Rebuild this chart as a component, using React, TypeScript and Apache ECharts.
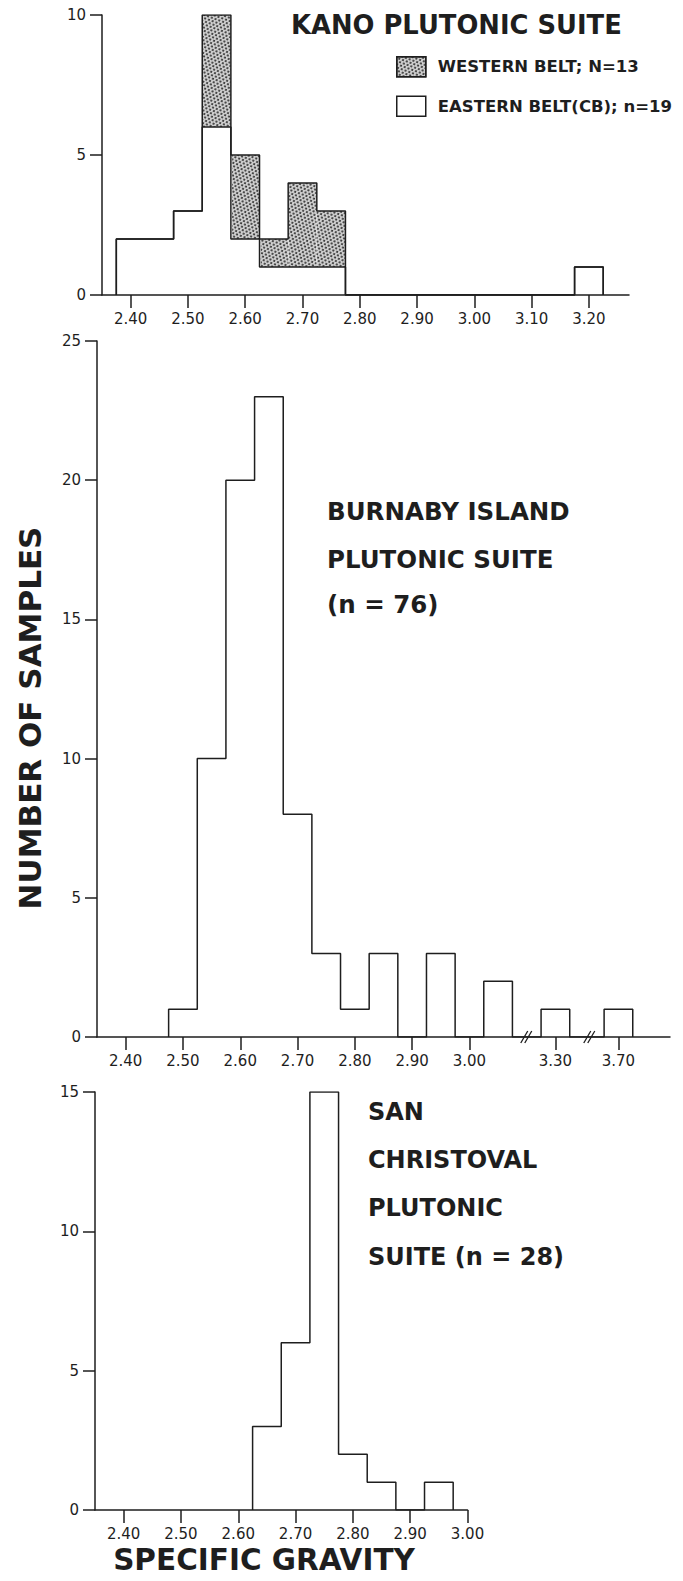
import React, { useEffect, useRef } from "react";
import * as echarts from "echarts";

const BIN = 0.05;

// ---- Kano Plutonic Suite ----
const kanoCenters = [2.4, 2.45, 2.5, 2.55, 2.6, 2.65, 2.7, 2.75, 3.2];
const kanoEastern = [2, 2, 3, 6, 2, 1, 1, 1, 1];
const kanoWestern = [0, 0, 0, 4, 3, 1, 3, 2, 0];
const kanoTicks = [2.4, 2.5, 2.6, 2.7, 2.8, 2.9, 3.0, 3.1, 3.2];

// ---- Burnaby Island Plutonic Suite ----
const burnabyCenters = [2.5, 2.55, 2.6, 2.65, 2.7, 2.75, 2.8, 2.85, 2.9, 2.95, 3.0, 3.05];
const burnabyCounts = [1, 10, 20, 23, 8, 3, 1, 3, 0, 3, 0, 2];
// values beyond the axis breaks, drawn at compressed axis positions
const burnabyBrokenPos = [3.15, 3.26];
const burnabyBrokenCounts = [1, 1];
const burnabyBreaks = [3.1, 3.21];
const burnabyTickPos = [2.4, 2.5, 2.6, 2.7, 2.8, 2.9, 3.0, 3.15, 3.26];
const burnabyTickLabels = ["2.40", "2.50", "2.60", "2.70", "2.80", "2.90", "3.00", "3.30", "3.70"];

// ---- San Christoval Plutonic Suite ----
const sanCenters = [2.65, 2.7, 2.75, 2.8, 2.85, 2.9, 2.95];
const sanCounts = [3, 6, 15, 2, 1, 0, 1];
const sanTicks = [2.4, 2.5, 2.6, 2.7, 2.8, 2.9, 3.0];

const INK = "#1e1e1e";
const FONT = "DejaVu Sans";

function stepOutline(centers: number[], counts: number[]): number[][] {
  const pts: number[][] = [];
  let prevHi: number | null = null;
  centers.forEach((c, i) => {
    const lo = +(c - BIN / 2).toFixed(4);
    const hi = +(c + BIN / 2).toFixed(4);
    if (prevHi === null) pts.push([lo, 0]);
    else if (lo - prevHi > 1e-6) {
      pts.push([prevHi, 0]);
      pts.push([lo, 0]);
    }
    pts.push([lo, counts[i]]);
    pts.push([hi, counts[i]]);
    prevHi = hi;
  });
  if (prevHi !== null) pts.push([prevHi, 0]);
  return pts;
}

function xAxisCfg(gridIndex: number, min: number, max: number, ticks: number[], fmt?: (v: number) => string) {
  return {
    type: "value",
    gridIndex,
    min,
    max,
    z: 10,
    axisLine: { show: true, onZero: false, lineStyle: { color: INK, width: 1.5 } },
    axisTick: { show: true, length: 13, customValues: ticks, lineStyle: { color: INK, width: 1.5 } },
    axisLabel: {
      show: true,
      customValues: ticks,
      margin: 16,
      color: INK,
      fontFamily: FONT,
      fontSize: 15,
      formatter: fmt || ((v: number) => v.toFixed(2)),
    },
    splitLine: { show: false },
  };
}

function yAxisCfg(gridIndex: number, max: number) {
  return {
    type: "value",
    gridIndex,
    min: 0,
    max,
    interval: 5,
    z: 10,
    axisLine: { show: true, lineStyle: { color: INK, width: 1.5 } },
    axisTick: { show: true, length: 12, lineStyle: { color: INK, width: 1.5 } },
    axisLabel: { show: true, margin: 16, color: INK, fontFamily: FONT, fontSize: 15 },
    splitLine: { show: false },
  };
}

const outlineLine = (name: string, data: number[][], xi: number, z = 5) => ({
  type: "line",
  name,
  xAxisIndex: xi,
  yAxisIndex: xi,
  data,
  symbol: "none",
  z,
  lineStyle: { color: INK, width: 1.5 },
  silent: true,
});

export default function App() {
  const ref = useRef<HTMLDivElement>(null);
  useEffect(() => {
    document.body.style.margin = "0";
    if (!ref.current) return;
    const chart = echarts.init(ref.current, null, { renderer: "svg" });

    const kanoTotal = kanoEastern.map((e, i) => e + kanoWestern[i]);
    const westernBars = kanoCenters
      .map((c, i) => [c, kanoTotal[i], kanoWestern[i]])
      .filter((d) => d[2] > 0)
      .map((d) => [d[0], d[1]]);
    const coverBars = kanoCenters
      .map((c, i) => [c, kanoEastern[i], kanoWestern[i]])
      .filter((d) => d[2] > 0)
      .map((d) => [d[0], d[1]]);

    const burnAllCenters = burnabyCenters.concat(burnabyBrokenPos);
    const burnAllCounts = burnabyCounts.concat(burnabyBrokenCounts);

    const WEST = "WESTERN BELT; N=13";
    const EAST = "EASTERN BELT(CB); n=19";

    const boldText = (text: string, x: number, y: number, size: number, extra: any = {}) => ({
      type: "text",
      x,
      y,
      style: {
        text,
        fill: INK,
        font: `bold ${size}px "${FONT}"`,
        textVerticalAlign: "middle",
        ...extra,
      },
    });

    const hiddenX = {
      type: "value",
      gridIndex: 0,
      min: 2.35,
      max: 3.27,
      show: false,
      axisLine: { show: false, onZero: false },
      axisTick: { show: false },
      axisLabel: { show: false },
      splitLine: { show: false },
    };

    const option: any = {
      animation: false,
      backgroundColor: "#ffffff",
      grid: [
        { left: 102, top: 15, width: 527, height: 280 },
        { left: 97, top: 341, width: 573, height: 696 },
        { left: 95, top: 1092, width: 372.5, height: 418 },
      ],
      xAxis: [
        xAxisCfg(0, 2.35, 3.27, kanoTicks),
        xAxisCfg(1, 2.35, 3.35, burnabyTickPos, (v: number) => {
          let best = 0;
          burnabyTickPos.forEach((p, i) => {
            if (Math.abs(p - v) < Math.abs(burnabyTickPos[best] - v)) best = i;
          });
          return burnabyTickLabels[best];
        }),
        xAxisCfg(2, 2.35, 3.0, sanTicks),
        hiddenX,
      ],
      yAxis: [yAxisCfg(0, 10), yAxisCfg(1, 25), yAxisCfg(2, 15)],
      legend: {
        orient: "vertical",
        left: 396,
        top: 56,
        padding: 0,
        itemWidth: 29,
        itemHeight: 20,
        itemGap: 18,
        selectedMode: false,
        textStyle: { color: INK, fontFamily: FONT, fontWeight: "bold", fontSize: 16.5, padding: [0, 0, 0, 7] },
        data: [
          { name: WEST, icon: "rect", itemStyle: { borderColor: INK, borderWidth: 1.5 } },
          { name: EAST, icon: "rect", itemStyle: { color: "#ffffff", borderColor: INK, borderWidth: 1.5 } },
        ],
      },
      series: [
        {
          type: "bar",
          name: WEST,
          xAxisIndex: 0,
          yAxisIndex: 0,
          data: westernBars,
          barWidth: 28.2,
          z: 2,
          itemStyle: {
            color: "#d0d0d0",
            borderWidth: 0,
            decal: {
              symbol: "circle",
              symbolSize: 0.95,
              color: "#202020",
              dashArrayX: [[1.5, 1.1], [0, 1.3, 1.5, 0]],
              dashArrayY: [1.5, 0.7],
              rotation: 0.35,
            },
          },
          silent: true,
        },
        {
          type: "bar",
          name: EAST,
          xAxisIndex: 3,
          yAxisIndex: 0,
          data: coverBars,
          barWidth: 31,
          z: 3,
          itemStyle: { color: "#ffffff", borderWidth: 0 },
          silent: true,
        },
        outlineLine("kano total", stepOutline(kanoCenters, kanoTotal), 0),
        outlineLine("kano eastern", stepOutline(kanoCenters, kanoEastern), 0),
        outlineLine("burnaby", stepOutline(burnAllCenters, burnAllCounts), 1),
        {
          type: "custom",
          name: "breaks",
          xAxisIndex: 1,
          yAxisIndex: 1,
          z: 12,
          silent: true,
          data: burnabyBreaks.map((b) => [b, 0]),
          renderItem: (params: any, api: any) => {
            const p = api.coord([api.value(0), api.value(1)]);
            const mk = (dx: number) => ({
              type: "line",
              shape: { x1: p[0] + dx - 4, y1: p[1] + 6, x2: p[0] + dx + 3, y2: p[1] - 6 },
              style: { stroke: INK, lineWidth: 1.3 },
            });
            return { type: "group", children: [mk(-2), mk(2)] };
          },
        },
        {
          type: "line",
          name: "san christoval",
          xAxisIndex: 2,
          yAxisIndex: 2,
          data: stepOutline(sanCenters, sanCounts),
          symbol: "none",
          z: 5,
          lineStyle: { color: INK, width: 1.5 },
          silent: true,
        },
      ],
      graphic: [
        boldText("KANO PLUTONIC SUITE", 291, 25, 25.8),
        boldText("BURNABY ISLAND", 327, 511, 24.5),
        boldText("PLUTONIC SUITE", 327, 559, 24.5),
        boldText("(n = 76)", 327, 604, 24.5),
        boldText("SAN", 368, 1112, 24),
        boldText("CHRISTOVAL", 368, 1160, 24),
        boldText("PLUTONIC", 368, 1208, 24),
        boldText("SUITE (n = 28)", 368, 1257, 24),
        {
          type: "text",
          x: 30,
          y: 718,
          rotation: Math.PI / 2,
          style: {
            text: "NUMBER OF SAMPLES",
            fill: INK,
            font: `bold 31px "${FONT}"`,
            textAlign: "center",
            textVerticalAlign: "middle",
          },
        },
        boldText("SPECIFIC GRAVITY", 264, 1560, 29.5, { textAlign: "center" }),
      ],
    };

    chart.setOption(option);
    return () => chart.dispose();
  }, []);

  return <div ref={ref} style={{ width: 683, height: 1581 }} />;
}
